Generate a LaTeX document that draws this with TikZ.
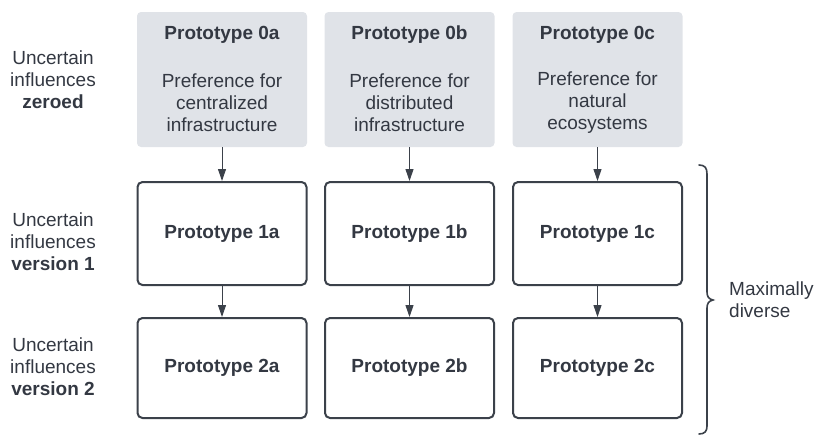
\documentclass[tikz,border=0pt]{standalone}
\usepackage{fontspec}
\setmainfont{Liberation Sans}
\usetikzlibrary{arrows.meta}
\definecolor{txt}{HTML}{333842}
\definecolor{edge}{HTML}{3B414A}
\definecolor{grayfill}{HTML}{E0E3E8}
\begin{document}
\begin{tikzpicture}[x=1pt,y=-1pt,
  every node/.style={font=\fontsize{19}{22}\selectfont, text=txt, align=center, inner sep=0pt},
  graybox/.style={fill=grayfill, rounded corners=4pt, minimum width=170pt, minimum height=135pt},
  protobox/.style={draw=edge, line width=2pt, fill=white, rounded corners=5pt, minimum width=169pt},
  link/.style={draw=edge, line width=1pt, -{Triangle[length=12pt,width=8pt]}},
  sidelabel/.style={align=center}]
\useasboundingbox (0,0) rectangle (816,434);
% top gray boxes
\foreach \c/\x/\d in {a/222/{Preference for\\centralized\\infrastructure},
                      b/409.5/{Preference for\\distributed\\infrastructure},
                      c/597.5/{Preference for\\natural\\ecosystems}}{
  \node[graybox] (p0\c) at (\x,79.5) {};
  \node[font=\fontsize{19}{22}\selectfont\bfseries] (t0\c) at (\x,34.5) {Prototype 0\c};
  \node (d0\c) at (\x,102.5) {\d};
  \node[protobox, minimum height=103pt] (p1\c) at (\x,233.5) {\textbf{Prototype 1\c}};
  \node[protobox, minimum height=100pt] (p2\c) at (\x,368) {\textbf{Prototype 2\c}};
  \draw[link] (p0\c.south) -- (p1\c.north);
  \draw[link] (p1\c.south) -- (p2\c.north);
}
% left labels
\node[sidelabel] (l0) at (53,80) {Uncertain\\influences\\\textbf{zeroed}};
\node[sidelabel] (l1) at (53,241.5) {Uncertain\\influences\\\textbf{version 1}};
\node[sidelabel] (l2) at (53,367) {Uncertain\\influences\\\textbf{version 2}};
% brace
\draw[edge, line width=1.6pt, line cap=round]
  (699,165) .. controls (705,165) and (707,168) .. (707,174)
  -- (707,292) .. controls (707,297) and (709,299) .. (713,300)
  .. controls (709,301) and (707,303) .. (707,308)
  -- (707,426) .. controls (707,431) and (705,434) .. (699,434);
\node[anchor=west, align=left] (md) at (729,300) {Maximally\\diverse};
\end{tikzpicture}
\end{document}
